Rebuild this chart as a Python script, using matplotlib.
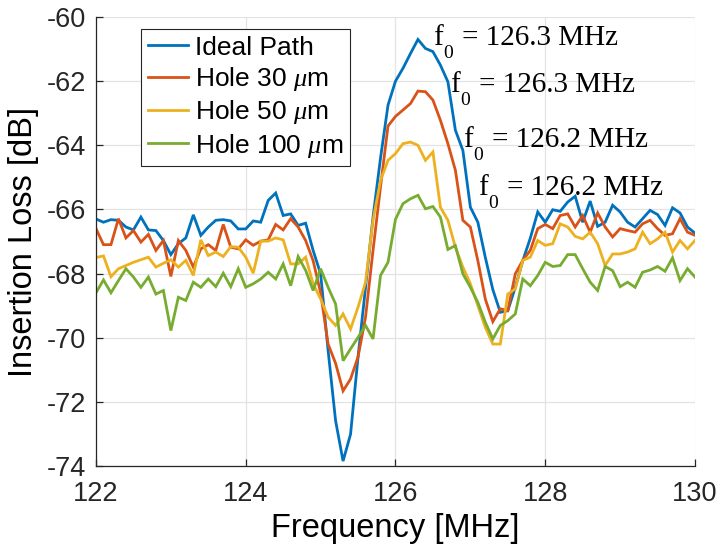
import numpy as np
import matplotlib
matplotlib.use("Agg")
import matplotlib.pyplot as plt

# Frequency sweep, 0.1 MHz steps
freq_start = 122.0
freq_step = 0.1

ideal_path = [
    -66.30, -66.40, -66.32, -66.34, -66.55, -66.64, -66.24, -66.64, -66.66, -66.97,
    -67.41, -67.07, -66.89, -66.17, -66.81, -66.55, -66.34, -66.32, -66.36, -66.61,
    -66.61, -66.36, -66.40, -65.72, -65.49, -66.19, -66.14, -66.50, -66.43, -67.28,
    -68.01, -70.40, -72.59, -73.85, -73.01, -70.60, -68.43, -66.24, -64.40, -62.75,
    -62.00, -61.60, -61.14, -60.70, -60.98, -61.08, -61.50, -62.02, -63.53, -64.16,
    -65.93, -66.40, -67.50, -68.50, -69.21, -69.16, -68.43, -67.60, -66.90, -66.08,
    -66.40, -66.01, -66.06, -65.77, -65.59, -66.40, -65.74, -66.53, -66.40, -65.87,
    -66.08, -66.40, -66.55, -66.29, -66.03, -66.16, -66.50, -65.95, -66.11, -66.55,
    -66.74,
]

hole_30 = [
    -66.60, -67.10, -67.10, -66.29, -66.89, -66.66, -67.02, -66.78, -67.28, -66.97,
    -68.09, -66.97, -67.28, -67.80, -67.23, -67.10, -67.28, -66.47, -67.18, -67.23,
    -66.95, -67.12, -66.99, -66.95, -66.47, -66.64, -66.29, -66.55, -66.97, -67.60,
    -68.60, -70.20, -70.80, -71.66, -71.29, -70.60, -69.36, -67.28, -65.30, -63.40,
    -63.10, -62.90, -62.70, -62.31, -62.33, -62.59, -63.22, -63.95, -64.78, -66.34,
    -66.55, -67.60, -68.80, -69.50, -69.10, -69.16, -68.01, -67.59, -67.28, -66.60,
    -66.47, -66.60, -66.19, -66.14, -66.55, -66.19, -66.71, -66.11, -66.55, -66.86,
    -66.60, -66.66, -66.71, -66.45, -66.34, -66.60, -66.81, -66.76, -66.29, -66.71,
    -66.81,
]

hole_50 = [
    -67.50, -67.45, -68.10, -67.85, -67.75, -67.65, -67.57, -67.49, -67.80, -67.68,
    -67.57, -67.80, -67.59, -68.06, -66.95, -67.44, -67.33, -67.47, -67.16, -67.18,
    -67.49, -67.99, -66.99, -66.99, -66.89, -66.95, -67.70, -67.70, -67.49, -68.32,
    -68.79, -69.36, -69.62, -69.26, -69.73, -69.05, -68.27, -66.34, -65.10, -64.47,
    -64.26, -63.95, -63.90, -64.00, -64.47, -64.21, -65.93, -66.34, -67.18, -67.80,
    -68.32, -69.00, -69.68, -70.20, -70.20, -68.64, -68.48, -67.59, -67.49, -66.97,
    -67.12, -67.07, -66.45, -66.55, -66.84, -66.92, -66.71, -67.07, -67.75, -67.39,
    -67.39, -67.33, -67.23, -66.71, -67.07, -66.92, -66.71, -67.33, -66.97, -67.23,
    -66.97,
]

hole_100 = [
    -68.60, -68.20, -68.60, -68.22, -67.85, -68.11, -68.43, -68.11, -68.64, -68.53,
    -69.78, -68.74, -68.84, -68.27, -68.43, -68.17, -68.41, -67.99, -68.41, -67.85,
    -68.43, -68.32, -68.17, -67.96, -68.17, -67.70, -68.38, -67.47, -67.90, -68.53,
    -67.85, -68.43, -68.95, -70.72, -70.35, -69.99, -69.62, -70.04, -68.06, -67.65,
    -66.31, -65.82, -65.67, -65.56, -65.98, -65.91, -66.24, -67.25, -67.13, -68.01,
    -68.43, -68.90, -69.52, -70.04, -69.62, -69.47, -69.26, -68.17, -68.38, -68.06,
    -67.65, -67.78, -67.75, -67.41, -67.41, -67.85, -68.27, -68.53, -67.78, -67.91,
    -68.41, -68.27, -68.43, -67.96, -67.89, -67.78, -67.93, -67.51, -68.22, -67.85,
    -68.11,
]

series_labels = ["Ideal Path", r"Hole 30 $\mu$m", r"Hole 50 $\mu$m", r"Hole 100 $\mu$m"]
series_colors = ["#0072BD", "#D95319", "#EDB120", "#77AC30"]

f0_texts = ["126.3", "126.3", "126.2", "126.2"]
f0_x = [126.50, 126.73, 126.90, 127.10]
f0_y = [-60.88, -62.34, -64.06, -65.56]

x_ticks = [122, 124, 126, 128, 130]
y_ticks = [-74, -72, -70, -68, -66, -64, -62, -60]

plt.rcParams["font.family"] = ["Liberation Sans", "DejaVu Sans"]
plt.rcParams["axes.unicode_minus"] = False
plt.rcParams["mathtext.fontset"] = "custom"
plt.rcParams["mathtext.rm"] = "Liberation Sans"
plt.rcParams["mathtext.it"] = "Liberation Serif:italic"

axis_grey = "#262626"

fig = plt.figure(figsize=(7.19, 5.54), dpi=100)
ax = fig.add_axes([0.1335, 0.159, 0.8331, 0.8103])

n = len(ideal_path)
freq = freq_start + freq_step * np.arange(n)

for vals, lab, col in zip([ideal_path, hole_30, hole_50, hole_100], series_labels, series_colors):
    ax.plot(freq, vals, color=col, lw=2.0, label=lab, solid_joinstyle="miter")

ax.set_xlim(122, 130)
ax.set_ylim(-74, -60)
ax.set_xticks(x_ticks)
ax.set_yticks(y_ticks)
ax.grid(True, color="#e3e3e3", lw=0.9)
ax.set_axisbelow(True)

for s in ["top", "right"]:
    ax.spines[s].set_visible(False)
for s in ["left", "bottom"]:
    ax.spines[s].set_color(axis_grey)
    ax.spines[s].set_linewidth(0.9)

ax.tick_params(axis="both", direction="in", length=5, width=0.9, colors=axis_grey,
               labelsize=19.5, labelcolor=axis_grey)
ax.tick_params(axis="x", pad=11)
ax.tick_params(axis="y", pad=7)

ax.set_xlabel("Frequency [MHz]", fontsize=23.5, color="black", labelpad=4)
ax.set_ylabel("Insertion Loss [dB]", fontsize=23.5, color="black", labelpad=6)

# Resonance labels: "f", subscript "0", then the value, placed in offset points
serif = "Liberation Serif"
for txt, tx, ty in zip(f0_texts, f0_x, f0_y):
    ax.annotate("f", xy=(tx, ty), xycoords="data", xytext=(0, 0),
                textcoords="offset points", fontsize=21, family=serif,
                ha="left", va="baseline", color="black")
    ax.annotate("0", xy=(tx, ty), xycoords="data", xytext=(7.4, -9.4),
                textcoords="offset points", fontsize=14, family=serif,
                ha="left", va="baseline", color="black")
    ax.annotate("= " + txt + " MHz", xy=(tx, ty), xycoords="data", xytext=(20.9, 0),
                textcoords="offset points", fontsize=21, family=serif,
                ha="left", va="baseline", color="black")

leg = ax.legend(loc="upper left", bbox_to_anchor=(0.075, 0.973), borderaxespad=0,
                fontsize=19, frameon=True, fancybox=False, handlelength=1.55,
                handletextpad=0.25, borderpad=0.25, labelspacing=0.2)
leg.get_frame().set_edgecolor(axis_grey)
leg.get_frame().set_linewidth(0.8)
leg.get_frame().set_alpha(1)

fig.savefig("out.png", dpi=100)
